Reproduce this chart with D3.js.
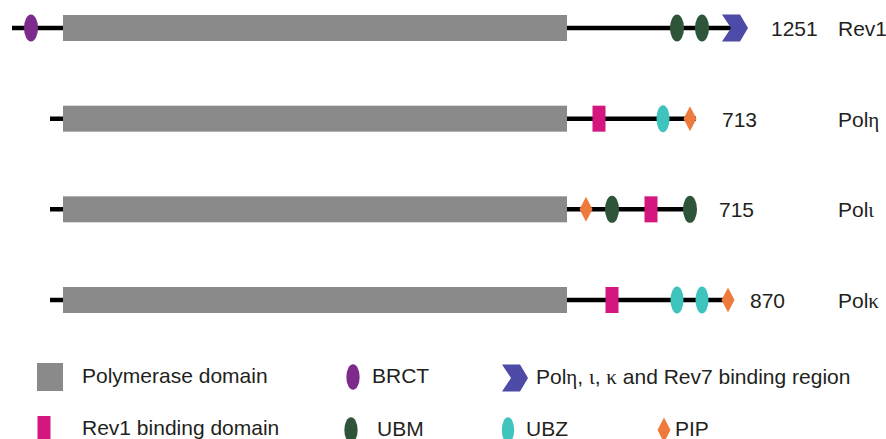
<!DOCTYPE html>
<html>
<head>
<meta charset="utf-8">
<script src="https://cdn.jsdelivr.net/npm/d3@7"></script>
<style>
  html, body { margin: 0; padding: 0; background: #fff; }
  svg { display: block; }
</style>
</head>
<body>
<div id="chart"></div>
<script>
var width = 886;
var height = 439;

// proteins (one track each)
var proteins = ["Rev1", "Polη", "Polι", "Polκ"];
var lengths = ["1251", "713", "715", "870"];
// schematic coordinates along each track
var trackStart = [12, 50, 50, 50];
var trackEnd = [735, 696, 690, 728];
var polStart = [63, 63, 63, 63];
var polEnd = [567, 567, 567, 567];
var lengthLabelAt = [771, 722, 719, 750];

// domains drawn on top of the tracks
var featureTrack = [0, 0, 0, 0, 1, 1, 1, 2, 2, 2, 2, 3, 3, 3, 3];
var featureType = ["BRCT", "UBM", "UBM", "CHEV",
                   "RBD", "UBZ", "PIP",
                   "PIP", "UBM", "RBD", "UBM",
                   "RBD", "UBZ", "UBZ", "PIP"];
var featurePos = [31, 677, 702, 735,
                  599, 663, 690,
                  586, 612, 651, 690,
                  612, 677, 702, 728];

// legend
var legendTypes = ["POL", "BRCT", "CHEV", "RBD", "UBM", "UBZ", "PIP"];
var legendLabels = ["Polymerase domain", "BRCT", "Polη, ι, κ and Rev7 binding region",
                    "Rev1 binding domain", "UBM", "UBZ", "PIP"];

var colors = {
  POL: "#8a8a8a", BRCT: "#7d2a8c", UBM: "#2e5439", UBZ: "#3ec3bd",
  PIP: "#ee7b3d", RBD: "#d3177f", CHEV: "#4d4aa8"
};

var svg = d3.select("#chart").append("svg")
  .attr("width", width)
  .attr("height", height);

var x = d3.scaleLinear().domain([0, width]).range([0, width]);
var y = d3.scalePoint().domain(proteins).range([28, 300]);

var textColor = "#231f20";
var fontSize = 21;

// greek letters look like they come from a serif symbol font
var writeText = function(sel, str){
  var runs = str.match(/[\u0370-\u03ff]+|[^\u0370-\u03ff]+/g);
  runs.forEach(function(r){
    var t = sel.append("tspan").text(r);
    if(/[\u0370-\u03ff]/.test(r)){
      t.attr("font-family", "'Liberation Serif', 'DejaVu Serif', serif");
    }
  });
};

var drawShape = function(g, type, cx, cy, big){
  var s = big ? 1 : 0.95;
  if(type == "BRCT" || type == "UBM"){
    g.append("ellipse").attr("cx", cx).attr("cy", cy)
      .attr("rx", 7 * s).attr("ry", 13.5 * s).attr("fill", colors[type]);
  }else if(type == "UBZ"){
    g.append("ellipse").attr("cx", cx).attr("cy", cy)
      .attr("rx", 6.5 * s).attr("ry", 13.5 * s).attr("fill", colors[type]);
  }else if(type == "RBD"){
    g.append("rect").attr("x", cx - 6.5).attr("y", cy - 13)
      .attr("width", 13).attr("height", 26).attr("fill", colors[type]);
  }else if(type == "PIP"){
    var w = 6.5, h = 12.5;
    g.append("path")
      .attr("d", "M" + cx + "," + (cy - h) + "L" + (cx + w) + "," + cy +
                 "L" + cx + "," + (cy + h) + "L" + (cx - w) + "," + cy + "Z")
      .attr("fill", colors[type]);
  }else if(type == "CHEV"){
    var l = cx - 13, r = cx + 13;
    g.append("path")
      .attr("d", "M" + l + "," + (cy - 13.5) + "L" + (r - 8) + "," + (cy - 13.5) +
                 "L" + r + "," + cy + "L" + (r - 8) + "," + (cy + 13.5) +
                 "L" + l + "," + (cy + 13.5) + "L" + (l + 9) + "," + cy + "Z")
      .attr("fill", colors[type]);
  }else if(type == "POL"){
    g.append("rect").attr("x", cx - 13).attr("y", cy - 14)
      .attr("width", 26).attr("height", 28).attr("fill", colors[type]);
  }
};

// tracks
var tracks = svg.selectAll("g.track")
  .data(proteins)
  .enter()
  .append("g")
  .attr("class", "track");

tracks.append("line")
  .attr("x1", function(d, i){ return x(trackStart[i]); })
  .attr("x2", function(d, i){ return x(trackEnd[i]); })
  .attr("y1", function(d){ return y(d); })
  .attr("y2", function(d){ return y(d); })
  .attr("stroke", "#000")
  .attr("stroke-width", 4.5);

tracks.append("rect")
  .attr("x", function(d, i){ return x(polStart[i]); })
  .attr("width", function(d, i){ return x(polEnd[i]) - x(polStart[i]); })
  .attr("y", function(d){ return y(d) - 13; })
  .attr("height", 26)
  .attr("fill", colors.POL);

tracks.append("text")
  .attr("x", function(d, i){ return x(lengthLabelAt[i]); })
  .attr("y", function(d){ return y(d) + 8; })
  .attr("font-family", "'Liberation Sans', Arial, sans-serif")
  .attr("font-size", fontSize)
  .attr("fill", textColor)
  .text(function(d, i){ return lengths[i]; });

tracks.append("text")
  .attr("x", x(838))
  .attr("y", function(d){ return y(d) + 8; })
  .attr("font-family", "'Liberation Sans', Arial, sans-serif")
  .attr("font-size", fontSize)
  .attr("fill", textColor)
  .each(function(d){ writeText(d3.select(this), d); });

// domain symbols
var feats = svg.append("g").attr("class", "features");
featureType.forEach(function(t, i){
  drawShape(feats, t, x(featurePos[i]), y(proteins[featureTrack[i]]), true);
});

// legend layout
var legendSym = [[50, 377], [353, 377], [515, 378], [44, 429], [351, 430], [508, 430], [664, 430]];
var legendText = [82, 372, 536, 82, 377, 526, 675];

var legend = svg.append("g").attr("class", "legend");
legendTypes.forEach(function(t, i){
  drawShape(legend, t, legendSym[i][0], legendSym[i][1], false);
  var tx = legend.append("text")
    .attr("x", legendText[i])
    .attr("y", legendSym[i][1] + 6)
    .attr("font-family", "'Liberation Sans', Arial, sans-serif")
    .attr("font-size", fontSize)
    .attr("fill", textColor);
  writeText(tx, legendLabels[i]);
});
</script>
</body>
</html>
